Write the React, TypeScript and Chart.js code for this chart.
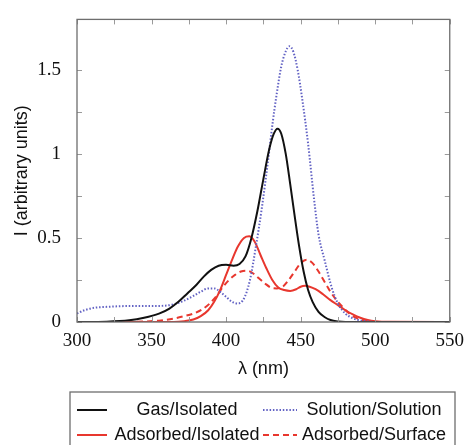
import { useEffect, useRef } from "react";
import { Chart, registerables } from "chart.js";

Chart.register(...registerables);

// ---------- data ----------
const gasLambda = [300, 320, 335, 345, 355, 362, 368, 374, 380, 385, 390, 395, 400, 405, 409, 413, 417, 421, 425, 429, 432, 434.5, 437, 440, 443, 446, 449, 452, 455, 458, 462, 466, 470, 475, 480, 550];
const gasI = [0, 0.002, 0.01, 0.025, 0.05, 0.08, 0.12, 0.17, 0.22, 0.27, 0.31, 0.335, 0.34, 0.335, 0.345, 0.39, 0.5, 0.66, 0.85, 1.03, 1.12, 1.15, 1.12, 1.0, 0.82, 0.63, 0.45, 0.3, 0.19, 0.12, 0.06, 0.03, 0.012, 0.003, 0, 0];

const solLambda = [300, 305, 312, 320, 335, 350, 362, 370, 377, 383, 388, 392, 396, 400, 404, 408, 412, 416, 420, 424, 428, 431, 434, 437, 440, 442.5, 445, 448, 451, 455, 459, 462, 466, 471, 475, 480, 485, 490, 495, 500, 550];
const solI = [0.05, 0.07, 0.085, 0.09, 0.095, 0.095, 0.1, 0.12, 0.15, 0.18, 0.2, 0.2, 0.18, 0.15, 0.12, 0.11, 0.14, 0.25, 0.45, 0.68, 0.95, 1.17, 1.36, 1.52, 1.61, 1.64, 1.61, 1.5, 1.33, 1.06, 0.73, 0.52, 0.37, 0.2, 0.11, 0.05, 0.022, 0.009, 0.003, 0, 0];

const adsIsoLambda = [300, 365, 372, 378, 383, 388, 392, 396, 400, 404, 408, 412, 415.5, 419, 423, 427, 431, 435, 439, 443, 447, 450, 453, 456, 460, 465, 470, 475, 480, 485, 490, 495, 500, 510, 550];
const adsIsoI = [0, 0, 0.005, 0.015, 0.035, 0.07, 0.12, 0.19, 0.28, 0.37, 0.45, 0.5, 0.51, 0.48, 0.4, 0.32, 0.25, 0.205, 0.19, 0.185, 0.195, 0.21, 0.215, 0.21, 0.195, 0.165, 0.13, 0.1, 0.07, 0.045, 0.025, 0.012, 0.005, 0.001, 0];

const adsSurfLambda = [300, 340, 355, 365, 372, 378, 384, 389, 394, 398, 402, 406, 410, 414, 418, 422, 426, 430, 434, 438, 442, 446, 450, 454, 458, 462, 466, 470, 474, 478, 482, 486, 490, 495, 500, 550];
const adsSurfI = [0, 0.002, 0.008, 0.02, 0.035, 0.05, 0.075, 0.11, 0.16, 0.21, 0.25, 0.28, 0.3, 0.305, 0.29, 0.26, 0.23, 0.205, 0.2, 0.21, 0.25, 0.3, 0.35, 0.37, 0.35, 0.3, 0.24, 0.18, 0.13, 0.09, 0.055, 0.03, 0.015, 0.005, 0, 0];

const seriesNames = ["Gas/Isolated", "Solution/Solution", "Adsorbed/Isolated", "Adsorbed/Surface"];
const xTickLabels = [300, 350, 400, 450, 500, 550];
const yTickLabels = [0, 0.5, 1, 1.5];

// ---------- styles ----------
const SANS = '"Liberation Sans", Arial, sans-serif';
const SERIF = '"Liberation Serif", "Times New Roman", serif';
const RED = "#e8372e";
const BLUE = "#6262c4";

const toPoints = (xs: number[], ys: number[]) => xs.map((x, i) => ({ x, y: ys[i] }));
const near = (a: number, b: number) => Math.abs(a - b) < 1e-6;

const frameTicks = {
  id: "frameTicks",
  afterDatasetsDraw(chart: any) {
    const { ctx, chartArea, scales } = chart;
    const { left, right, top, bottom } = chartArea;
    const x = scales.x;
    const y = scales.y;
    const L = 5;
    ctx.save();
    ctx.strokeStyle = "#9a9a9a";
    ctx.lineWidth = 1;
    ctx.beginPath();
    x.ticks.forEach((t: any) => {
      const v = t.value;
      if (Math.abs(v / 25 - Math.round(v / 25)) > 1e-6) return;
      const px = Math.round(x.getPixelForValue(v)) + 0.5;
      ctx.moveTo(px, bottom);
      ctx.lineTo(px, bottom - L);
      ctx.moveTo(px, top);
      ctx.lineTo(px, top + L);
    });
    y.ticks.forEach((t: any) => {
      const v = t.value;
      if (Math.abs(v / 0.25 - Math.round(v / 0.25)) > 1e-6) return;
      const py = Math.round(y.getPixelForValue(v)) + 0.5;
      ctx.moveTo(left, py);
      ctx.lineTo(left + L, py);
      ctx.moveTo(right, py);
      ctx.lineTo(right - L, py);
    });
    ctx.stroke();
    ctx.strokeStyle = "#6e6e6e";
    ctx.lineWidth = 1.3;
    ctx.strokeRect(left, top, right - left, bottom - top);
    ctx.restore();
  },
};

const boxLegend = {
  id: "boxLegend",
  afterDraw(chart: any) {
    const { ctx } = chart;
    const box = { l: 70, r: 455, t: 392, b: 452 };
    const rowsY = [410, 435];
    const cols = [
      { s0: 77, s1: 107, tc: 187 },
      { s0: 263, s1: 297, tc: 374 },
    ];
    ctx.save();
    ctx.fillStyle = "#ffffff";
    ctx.fillRect(box.l, box.t, box.r - box.l, box.b - box.t);
    ctx.strokeStyle = "#6e6e6e";
    ctx.lineWidth = 1.3;
    ctx.strokeRect(box.l, box.t, box.r - box.l, box.b - box.t);
    chart.data.datasets.forEach((ds: any, i: number) => {
      const c = cols[i % 2];
      const yy = rowsY[Math.floor(i / 2)];
      ctx.beginPath();
      ctx.strokeStyle = ds.borderColor;
      ctx.lineWidth = ds.borderWidth;
      ctx.setLineDash(ds.borderDash || []);
      ctx.moveTo(c.s0, yy);
      ctx.lineTo(c.s1, yy);
      ctx.stroke();
      ctx.setLineDash([]);
      ctx.fillStyle = "#111";
      ctx.font = `18px ${SANS}`;
      ctx.textAlign = "center";
      ctx.textBaseline = "middle";
      ctx.fillText(ds.label, c.tc, yy);
    });
    ctx.restore();
  },
};

export default function App() {
  const ref = useRef<HTMLCanvasElement | null>(null);

  useEffect(() => {
    if (!ref.current) return;
    const chart = new Chart(ref.current, {
      type: "line",
      data: {
        datasets: [
          {
            label: seriesNames[0],
            data: toPoints(gasLambda, gasI),
            borderColor: "#111111",
            borderWidth: 2,
            borderDash: [],
          },
          {
            label: seriesNames[1],
            data: toPoints(solLambda, solI),
            borderColor: BLUE,
            borderWidth: 2,
            borderDash: [1.5, 1.8],
          },
          {
            label: seriesNames[2],
            data: toPoints(adsIsoLambda, adsIsoI),
            borderColor: RED,
            borderWidth: 2,
            borderDash: [],
          },
          {
            label: seriesNames[3],
            data: toPoints(adsSurfLambda, adsSurfI),
            borderColor: RED,
            borderWidth: 2,
            borderDash: [6, 4],
          },
        ] as any,
      },
      options: {
        animation: false,
        responsive: false,
        parsing: true,
        layout: { padding: { top: 13, right: 14, left: 0, bottom: 0 } },
        elements: {
          point: { radius: 0 },
          line: { cubicInterpolationMode: "monotone", fill: false },
        },
        plugins: {
          legend: { display: false },
          tooltip: { enabled: false },
        },
        scales: {
          x: {
            type: "linear",
            min: 300,
            max: 550,
            grid: { display: false },
            border: { display: false },
            ticks: {
              stepSize: 25,
              autoSkip: false,
              maxRotation: 0,
              padding: 0,
              color: "#111",
              font: { family: SERIF, size: 19 },
              callback: (v: any) => (xTickLabels.some((t) => near(t, Number(v))) ? String(v) : ""),
            },
            title: {
              display: true,
              text: "λ (nm)",
              color: "#111",
              font: { family: SANS, size: 18 },
              padding: { top: 0, bottom: 65 },
            },
            afterFit: (scale: any) => {
              scale.height = 123;
            },
          },
          y: {
            type: "linear",
            min: 0,
            max: 1.8,
            grid: { display: false },
            border: { display: false },
            ticks: {
              stepSize: 0.25,
              autoSkip: false,
              padding: 8,
              color: "#111",
              font: { family: SERIF, size: 19 },
              callback: (v: any) => {
                const n = Number(v);
                const hit = yTickLabels.find((t) => near(t, n));
                return hit === undefined ? "" : String(hit);
              },
            },
            title: {
              display: true,
              text: "I (arbitrary units)",
              color: "#111",
              font: { family: SANS, size: 18 },
              padding: { top: 11, bottom: 0 },
            },
            afterFit: (scale: any) => {
              scale.width = 77;
            },
          },
        },
      } as any,
      plugins: [frameTicks, boxLegend],
    });
    return () => chart.destroy();
  }, []);

  return (
    <div style={{ position: "absolute", left: 0, top: 0, width: 464, height: 445, background: "#fff" }}>
      <canvas ref={ref} width={464} height={445} style={{ display: "block" }} />
    </div>
  );
}
